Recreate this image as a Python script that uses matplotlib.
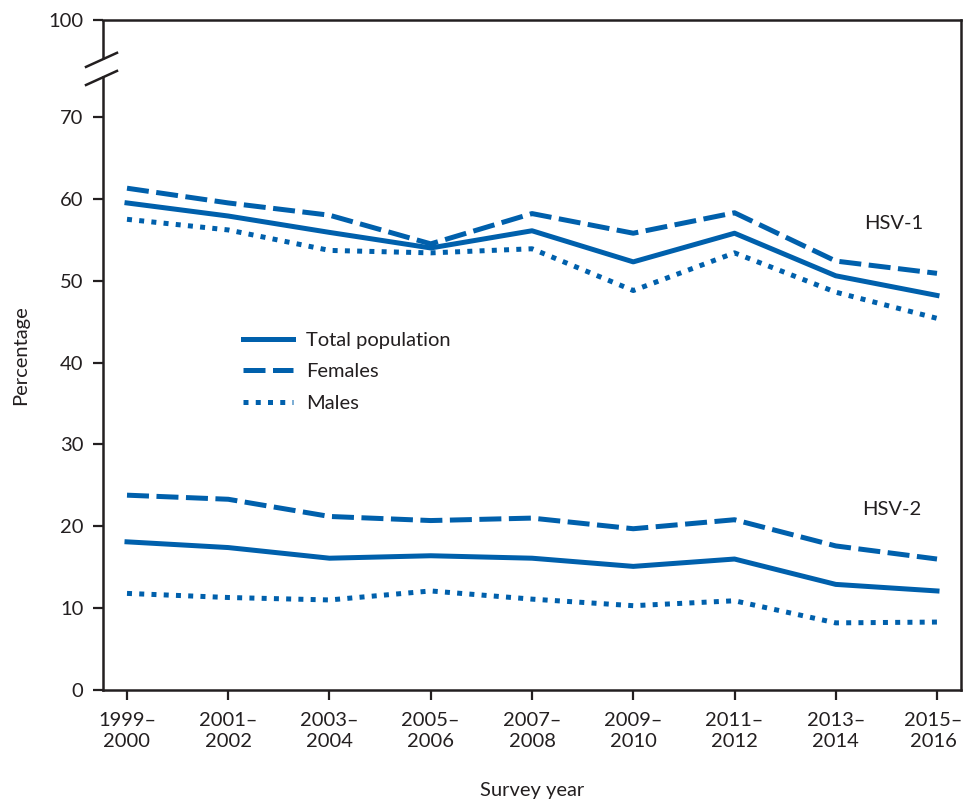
import matplotlib
matplotlib.use('Agg')
import matplotlib.pyplot as plt
import matplotlib.transforms as mtransforms

plt.rcParams['font.family'] = ['Lato', 'DejaVu Sans']

# 调查年份
years = ['1999–\n2000', '2001–\n2002', '2003–\n2004', '2005–\n2006', '2007–\n2008',
         '2009–\n2010', '2011–\n2012', '2013–\n2014', '2015–\n2016']

# HSV-1
hsv1_total = [59.5, 57.9, 55.9, 54.0, 56.1, 52.3, 55.8, 50.6, 48.2]
hsv1_female = [61.3, 59.5, 58.0, 54.5, 58.2, 55.8, 58.3, 52.4, 50.9]
hsv1_male = [57.5, 56.2, 53.7, 53.4, 53.9, 48.8, 53.4, 48.6, 45.4]

# HSV-2
hsv2_total = [18.1, 17.4, 16.1, 16.4, 16.1, 15.1, 16.0, 12.9, 12.1]
hsv2_female = [23.8, 23.3, 21.2, 20.7, 21.0, 19.7, 20.8, 17.6, 16.0]
hsv2_male = [11.8, 11.3, 11.0, 12.1, 11.1, 10.3, 10.9, 8.2, 8.3]

blue = '#0060AC'
txt = '#231F20'
lw = 3.6
fs = 14.5

fig = plt.figure(figsize=(9.63, 8.01), dpi=100)
ax = fig.add_axes([103/963, 1-690/801, 858/963, 670/801])

x = range(len(years))
styles = [None, (4.4, 1.5), (1.0, 1.45)]
for vals, d, lab in zip([hsv1_total, hsv1_female, hsv1_male],
                        styles, ['Total population', 'Females', 'Males']):
    kw = dict(color=blue, lw=lw, label=lab)
    if d is not None:
        kw['dashes'] = d
    ax.plot(x, vals, **kw)
for vals, d in zip([hsv2_total, hsv2_female, hsv2_male], styles):
    kw = dict(color=blue, lw=lw)
    if d is not None:
        kw['dashes'] = d
    ax.plot(x, vals, **kw)

top = 670/8.186
ax.set_ylim(0, top)
ax.set_xlim(-0.237, 8.237)
ax.set_yticks([0, 10, 20, 30, 40, 50, 60, 70, top])
ax.set_yticklabels(['0', '10', '20', '30', '40', '50', '60', '70', '100'])
ax.set_xticks(list(x))
ax.set_xticklabels(years, linespacing=1.25)

for s in ax.spines.values():
    s.set_linewidth(1.8)
    s.set_color(txt)
ax.spines['left'].set_bounds(0, 74.85)
ax.tick_params(axis='both', direction='out', length=7.2, width=1.6, colors=txt,
               labelsize=fs, labelcolor=txt)
ax.tick_params(axis='y', pad=7)
ax.tick_params(axis='x', pad=9)

# 最右侧标签稍向左移，避免被裁切
last = ax.get_xticklabels()[-1]
last.set_transform(last.get_transform() +
                   mtransforms.ScaledTranslation(-4/100, 0, fig.dpi_scale_trans))

# 断轴标记
ax.plot([0, 0], [77.05, top], color=txt, lw=1.8, clip_on=False,
        transform=ax.get_yaxis_transform(), solid_capstyle='butt')
for y0, y1 in [(0.930, 0.951), (0.903, 0.924)]:
    ax.plot([-0.0198, 0.0163], [y0, y1], color=txt, lw=1.8,
            transform=ax.transAxes, clip_on=False)

ax.text(7.57, 57.0, 'HSV-1', fontsize=fs, color=txt, ha='center', va='center')
ax.text(7.55, 22.1, 'HSV-2', fontsize=fs, color=txt, ha='center', va='center')

ax.set_ylabel('Percentage', fontsize=fs, color=txt, labelpad=14)
ax.set_xlabel('Survey year', fontsize=fs, color=txt, labelpad=23)

leg = ax.legend(loc='upper left', bbox_to_anchor=(0.163, 0.535), frameon=False,
                fontsize=fs, handlelength=2.5, handletextpad=0.65,
                labelspacing=0.72, borderpad=0, borderaxespad=0)
for t in leg.get_texts():
    t.set_color(txt)

fig.savefig('out.png', dpi=100)
